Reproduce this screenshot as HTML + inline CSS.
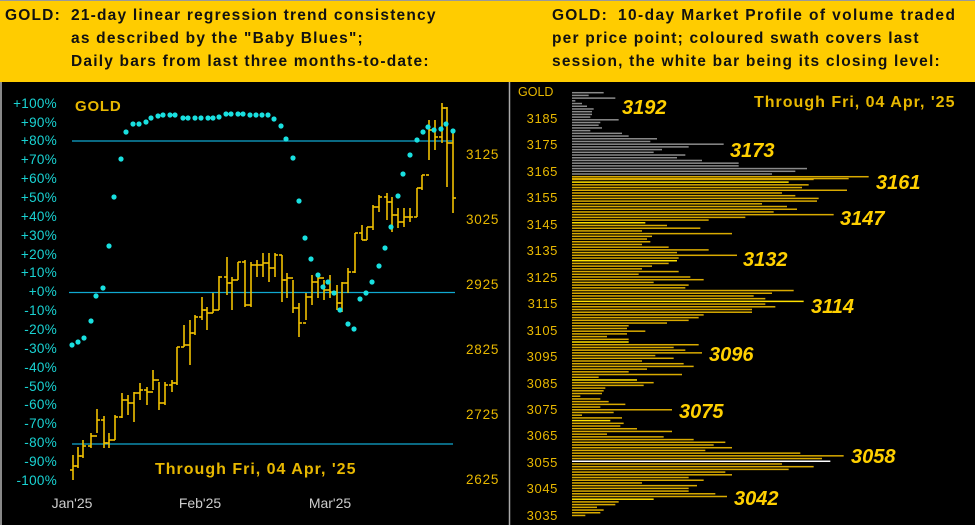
<!DOCTYPE html>
<html><head><meta charset="utf-8"><style>
html,body{margin:0;padding:0;background:#000;}
body{width:975px;height:525px;overflow:hidden;position:relative;font-family:"Liberation Sans",sans-serif;}
.hdr{position:absolute;left:0;top:0;width:975px;height:82px;background:#FFCC00;border-top:1px solid #999;box-sizing:border-box;}
.hdr div{position:absolute;font-weight:bold;font-size:15.5px;color:#111;white-space:nowrap;letter-spacing:1.2px;}
svg{position:absolute;left:0;top:0;}
</style></head><body>
<div class="hdr">
<div style="left:5px;top:6px">GOLD:</div>
<div style="left:71px;top:6px">21-day linear regression trend consistency</div>
<div style="left:71px;top:29px">as described by the "Baby Blues";</div>
<div style="left:71px;top:52px">Daily bars from last three months-to-date:</div>
<div style="left:552px;top:6px">GOLD:</div>
<div style="left:618px;top:6px;letter-spacing:1.4px">10-day Market Profile of volume traded</div>
<div style="left:552px;top:29px">per price point; coloured swath covers last</div>
<div style="left:552px;top:52px">session, the white bar being its closing level:</div>
</div>
<svg id="s" width="975" height="525" viewBox="0 0 975 525" style="top:0">
<rect x="0" y="82" width="975" height="443" fill="#000"/>
<line x1="1" y1="82" x2="1" y2="525" stroke="#888" stroke-width="2"/>
<line x1="509.5" y1="82" x2="509.5" y2="525" stroke="#aaa" stroke-width="1.5"/>
<line x1="72" y1="141" x2="453" y2="141" stroke="#10a8d0" stroke-width="1.3"/>
<line x1="69" y1="292.5" x2="455" y2="292.5" stroke="#10a8d0" stroke-width="1.3"/>
<line x1="72" y1="444" x2="453" y2="444" stroke="#10a8d0" stroke-width="1.3"/>
<g font-size="13.5" fill="#19d3d3" text-anchor="end" font-family="Liberation Sans,sans-serif" letter-spacing="0.3">
<text x="57" y="108">+100%</text><text x="57" y="127">+90%</text><text x="57" y="145">+80%</text><text x="57" y="164">+70%</text><text x="57" y="183">+60%</text><text x="57" y="202">+50%</text><text x="57" y="221">+40%</text><text x="57" y="240">+30%</text><text x="57" y="259">+20%</text><text x="57" y="277">+10%</text><text x="57" y="296">+0%</text><text x="57" y="315">-10%</text><text x="57" y="334">-20%</text><text x="57" y="353">-30%</text><text x="57" y="372">-40%</text><text x="57" y="391">-50%</text><text x="57" y="409">-60%</text><text x="57" y="428">-70%</text><text x="57" y="447">-80%</text><text x="57" y="466">-90%</text><text x="57" y="485">-100%</text>
</g>
<g font-size="13.5" fill="#e8b800" letter-spacing="0.8"><text x="466" y="159">3125</text><text x="466" y="224">3025</text><text x="466" y="289">2925</text><text x="466" y="354">2825</text><text x="466" y="419">2725</text><text x="466" y="484">2625</text></g>
<g font-size="14" fill="#ccc" text-anchor="middle"><text x="72" y="508">Jan'25</text><text x="200" y="508">Feb'25</text><text x="330" y="508">Mar'25</text></g>
<text x="75" y="111" font-size="15" font-weight="bold" fill="#e8b800" letter-spacing="0.8">GOLD</text>
<text x="155" y="474" font-size="16" font-weight="bold" fill="#e8b800" letter-spacing="1">Through Fri, 04 Apr, '25</text>
<text x="754" y="107" font-size="16" font-weight="bold" fill="#e8b800" letter-spacing="1">Through Fri, 04 Apr, '25</text>
<text x="518" y="96" font-size="12.5" fill="#e8b800">GOLD</text>
<g font-size="13" fill="#e8b800" text-anchor="end" letter-spacing="0.6">
<text x="558" y="123">3185</text><text x="558" y="149">3175</text><text x="558" y="176">3165</text><text x="558" y="202">3155</text><text x="558" y="229">3145</text><text x="558" y="255">3135</text><text x="558" y="282">3125</text><text x="558" y="308">3115</text><text x="558" y="335">3105</text><text x="558" y="361">3095</text><text x="558" y="388">3085</text><text x="558" y="414">3075</text><text x="558" y="440">3065</text><text x="558" y="467">3055</text><text x="558" y="493">3045</text><text x="558" y="520">3035</text>
</g>
<g id="bars"></g><g id="gold"></g><g id="dots" fill="#19e0e0"></g>
<g font-size="20" font-weight="bold" font-style="italic" fill="#ffd000">
<text x="622" y="114">3192</text><text x="730" y="157">3173</text><text x="876" y="189">3161</text><text x="840" y="225">3147</text><text x="743" y="266">3132</text><text x="811" y="313">3114</text><text x="709" y="361">3096</text><text x="679" y="418">3075</text><text x="851" y="463">3058</text><text x="734" y="505">3042</text>
</g>
</svg>
<script>
var NS="http://www.w3.org/2000/svg";
function el(p,t,a){var e=document.createElementNS(NS,t);for(var k in a)e.setAttribute(k,a[k]);p.appendChild(e);return e;}
var L=[295,250,330,210,230,245,265,260,260,255,340,285,280,290,255,350,370,455,435,655,550,470,445,540,515,590,700,700,905,870,800,1090,925,850,910,890,1025,830,870,940,935,770,845,875,805,985,720,610,420,485,585,410,680,440,425,435,410,490,610,515,695,520,515,490,440,410,520,400,555,595,445,550,540,865,800,745,780,895,780,810,740,740,595,580,550,485,370,365,420,365,305,370,370,580,505,540,590,450,505,410,535,565,425,370,530,280,395,445,415,300,295,290,225,285,310,360,285,500,325,230,350,315,355,345,395,500,305,475,565,660,625,680,600,885,1015,950,975,830,925,850,660,680,550,595,410,575,550,550,630,665,445,340,330,275,295,285,240];
var bright={3159:1,3144:1,3130:1,3115:1,3100:1,3086:1,3071:1,3042:1};
var bg=document.getElementById("bars");
for(var i=0;i<L.length;i++){var p=3192-i;var y=92.7+i*2.71;var w=(L[i]-200)/3;
var c=p>3161?"#8a8a8a":(p==3056?"#ffffff":(bright[p]?"#ffe000":"#d9aa00"));
el(bg,"rect",{x:572,y:y-0.75,width:w,height:1.5,fill:c});
if(p==3161)el(bg,"rect",{x:572,y:y+1.2,width:(1030-200)/3,height:1.4,fill:"#d9aa00"});}
var B=[[455,480,466],[447,468,456],[440,458,446],[433,448,436],[409,433,420],[416,448,443],[433,448,440],[415,440,417],[393,418,400],[395,415,403],[392,422,393],[383,400,390],[387,405,392],[370,390,380],[382,410,403],[382,405,385],[380,392,383],[347,385,347],[325,347,345],[320,365,333],[315,335,317],[297,320,310],[307,330,313],[293,313,310],[276,310,277],[257,295,283],[277,310,280],[262,280,262],[260,307,305],[262,307,265],[260,277,265],[253,277,263],[253,282,268],[253,277,255],[255,302,280],[273,298,278],[280,313,308],[303,337,323],[293,320,297],[275,305,282],[273,298,278],[280,300,290],[275,298,292],[285,310,303],[282,312,283],[268,293,272],[233,273,233],[225,240,240],[227,240,227],[205,230,207],[195,212,197],[193,220,202],[197,232,215],[208,228,222],[208,227,217],[208,222,217],[188,217,188],[175,190,175],[120,160,130],[120,150,137],[103,143,108],[107,187,143],[132,213,198]];
var X=[73,78,83,91,97,104,109,115,122,128,134,140,147,153,159,165,172,177,184,190,195,202,207,213,219,227,232,238,245,251,257,263,269,275,282,287,293,299,306,312,318,324,330,337,342,348,355,362,367,373,379,387,392,398,404,410,417,422,429,435,442,447,453];
var g=document.getElementById("gold");var prev=470;
for(var i=0;i<B.length;i++){var x=X[i],b=B[i];
el(g,"line",{x1:x,y1:b[0],x2:x,y2:b[1],stroke:"#f0c000","stroke-width":1.6});
el(g,"line",{x1:x-3,y1:prev,x2:x,y2:prev,stroke:"#f0c000","stroke-width":1.6});
el(g,"line",{x1:x,y1:b[2],x2:x+3,y2:b[2],stroke:"#f0c000","stroke-width":1.6});prev=b[2];}
var D=[[72,345],[78,342],[84,338],[91,321],[96,296],[103,288],[109,246],[114,197],[121,159],[126,132],[133,124],[139,124],[146,122],[151,118],[158,116],[163,115],[170,115],[175,115],[183,118],[188,118],[195,118],[201,118],[208,118],[213,118],[219,117],[226,114],[231,114],[238,114],[243,114],[250,115],[256,115],[262,115],[268,115],[274,119],[281,126],[286,139],[293,158],[299,201],[305,238],[311,259],[318,275],[323,287],[328,282],[334,293],[340,310],[348,324],[354,329],[360,299],[366,293],[372,282],[379,266],[385,248],[391,227],[398,196],[403,174],[410,155],[417,140],[423,132],[428,127],[434,130],[441,129],[446,124],[453,131]];
var d=document.getElementById("dots");
D.forEach(function(q){el(d,"circle",{cx:q[0],cy:q[1],r:2.6});});
</script>
</body></html>
